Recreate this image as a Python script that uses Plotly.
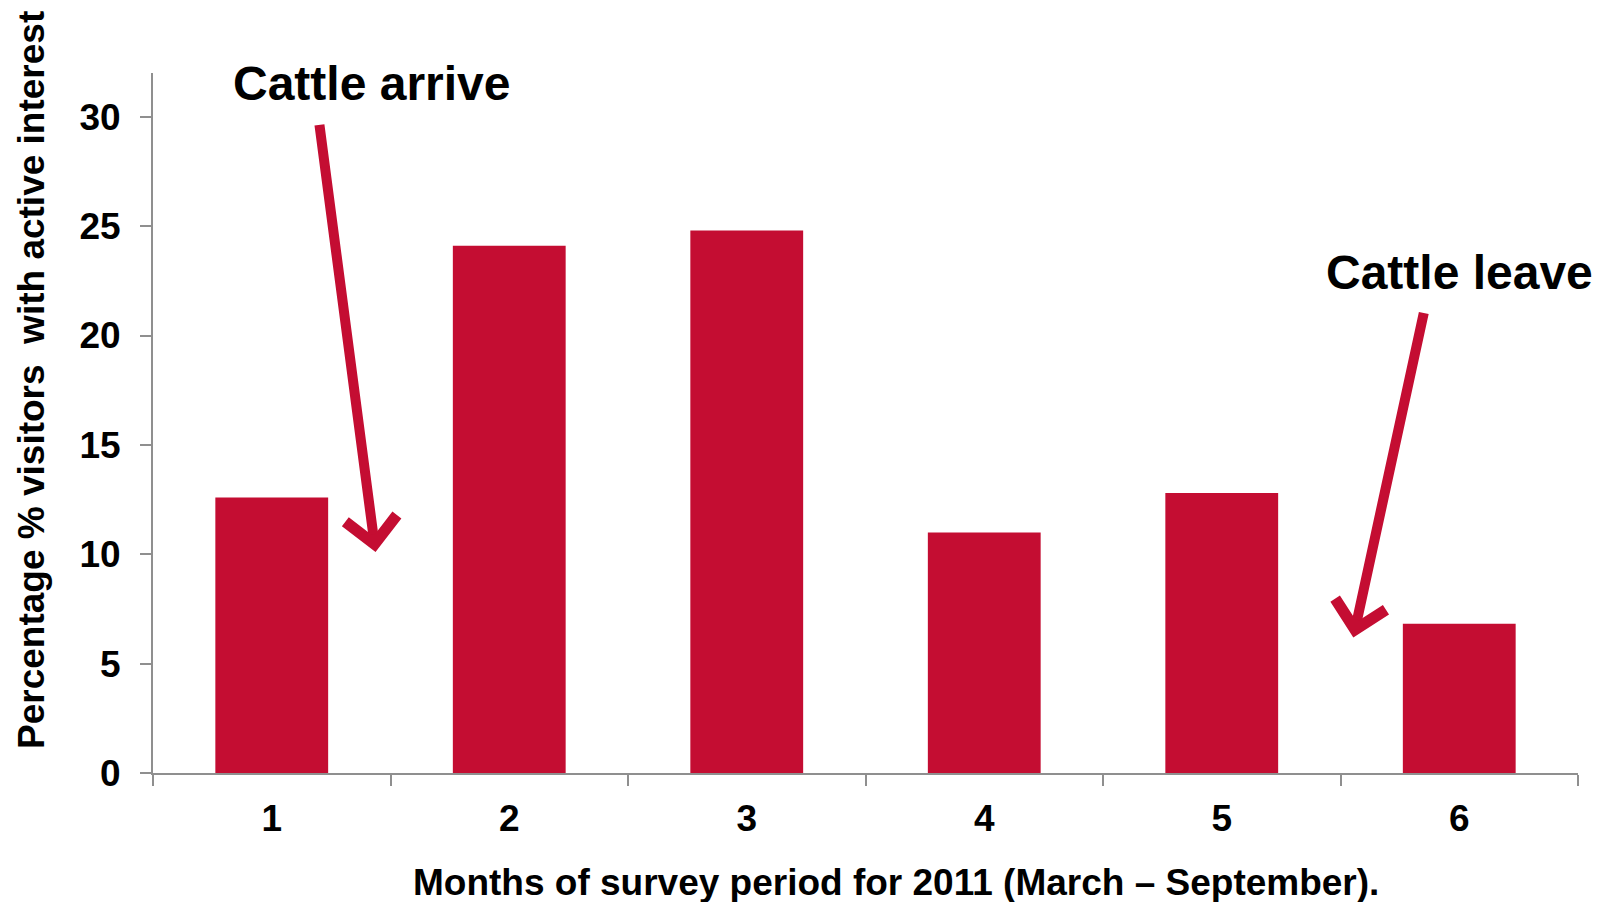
import plotly.graph_objects as go

months = ["1", "2", "3", "4", "5", "6"]
pct_active = [12.6, 24.1, 24.8, 11.0, 12.8, 6.82]
y_ticks = [0, 5, 10, 15, 20, 25, 30]

BAR = "#C40D32"
AXIS = "#8f8f8f"
FONT = "Liberation Sans, Arial, sans-serif"

L, R, T, B = 153, 32, 73, 129
PW, PH = 1610 - L - R, 902 - T - B

fig = go.Figure()
fig.add_trace(go.Bar(x=months, y=pct_active, marker_color=BAR, marker_line_width=0))

fig.update_layout(
    width=1610, height=902,
    margin=dict(l=L, r=R, t=T, b=B),
    plot_bgcolor="white", paper_bgcolor="white",
    bargap=0.525, showlegend=False,
    font=dict(family=FONT, color="black"),
)
fig.update_xaxes(
    type="category", range=[-0.5, len(months) - 0.5], autorange=False,
    showgrid=False, showline=True, linecolor=AXIS, linewidth=2,
    ticks="outside", tickson="boundaries", ticklen=11, tickcolor=AXIS, tickwidth=2,
    ticklabelstandoff=12,
    tickfont=dict(family=FONT, size=37, color="black", weight="bold"),
)
fig.update_yaxes(
    range=[0, 32], autorange=False, tickvals=y_ticks, showgrid=False, zeroline=False,
    showline=True, linecolor=AXIS, linewidth=2,
    ticks="outside", ticklen=11, tickcolor=AXIS, tickwidth=2,
    ticklabelstandoff=12,
    tickfont=dict(family=FONT, size=37, color="black", weight="bold"),
)

# axis titles as annotations (offset like the original)
fig.add_annotation(text="Months of survey period for 2011 (March \u2013 September).",
                   xref="paper", yref="paper", x=(896 - L) / PW, y=-(882 - (902 - B)) / PH,
                   xanchor="center", yanchor="middle",
                   showarrow=False, font=dict(family=FONT, size=37, color="black", weight="bold"))
fig.add_annotation(text="Percentage % visitors \u00a0with active interest",
                   xref="paper", yref="paper", x=-(L - 31) / PW, y=((902 - B) - 380) / PH,
                   xanchor="center", yanchor="middle",
                   textangle=-90, showarrow=False,
                   font=dict(family=FONT, size=37, color="black", weight="bold"))

# labels
fig.add_annotation(text="Cattle arrive", x=0.42, y=31.5, xref="x", yref="y", showarrow=False,
                   xanchor="center", yanchor="middle",
                   font=dict(family=FONT, size=48, color="black", weight="bold"))
fig.add_annotation(text="Cattle leave", x=5.0, y=22.9, xref="x", yref="y", showarrow=False,
                   xanchor="center", yanchor="middle",
                   font=dict(family=FONT, size=48, color="black", weight="bold"))

# arrows
fig.add_annotation(text="", x=0.437, y=10.1, ax=0.2, ay=29.7, xref="x", yref="y",
                   axref="x", ayref="y", showarrow=True, arrowhead=4, arrowsize=1,
                   arrowwidth=10, arrowcolor=BAR, standoff=0, startstandoff=0)
fig.add_annotation(text="", x=4.554, y=6.2, ax=4.852, ay=21.1, xref="x", yref="y",
                   axref="x", ayref="y", showarrow=True, arrowhead=4, arrowsize=1,
                   arrowwidth=10, arrowcolor=BAR, standoff=0, startstandoff=0)

fig.write_html("out.html", config={"displayModeBar": False},
               post_script="document.body.style.margin='0';document.body.style.overflow='hidden';")
